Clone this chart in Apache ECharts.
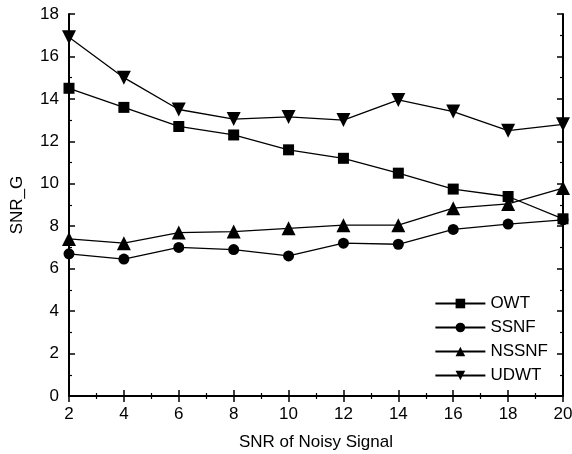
<!DOCTYPE html>
<html>
<head>
<meta charset="utf-8">
<script src="https://cdn.jsdelivr.net/npm/echarts@6/dist/echarts.min.js"></script>
<style>
  html, body { margin: 0; padding: 0; background: #fff; }
  #main { width: 572px; height: 454px; }
</style>
</head>
<body>
<div id="main"></div>
<script>
// SNR of noisy signal (x)
var snrIn = [2, 4, 6, 8, 10, 12, 14, 16, 18, 20];

// SNR_G for each method
var owt   = [14.5, 13.6, 12.7, 12.3, 11.6, 11.2, 10.5, 9.75, 9.4, 8.35];
var ssnf  = [6.7, 6.45, 7.0, 6.9, 6.6, 7.2, 7.15, 7.85, 8.1, 8.3];
var nssnf = [7.4, 7.2, 7.7, 7.75, 7.9, 8.05, 8.05, 8.85, 9.05, 9.8];
var udwt  = [16.9, 15.0, 13.5, 13.05, 13.15, 13.0, 13.95, 13.4, 12.5, 12.8];

function pairs(ys) {
  return snrIn.map(function (x, i) { return [x, ys[i]]; });
}

var chart = echarts.init(document.getElementById('main'));

var font = 'Liberation Sans, Arial, sans-serif';
var axisLine = { show: true, lineStyle: { color: '#000', width: 2 } };
var tick = { show: true, inside: true, length: 6, lineStyle: { color: '#000', width: 1.5 } };
var minor = { show: true, splitNumber: 2, length: 3, lineStyle: { color: '#000', width: 1.2 } };

function line(name, symbol, ys, size, rotate) {
  return {
    name: name,
    type: 'line',
    data: pairs(ys),
    symbol: symbol,
    symbolSize: size,
    symbolRotate: rotate || 0,
    lineStyle: { color: '#000', width: 1.3 },
    itemStyle: { color: '#000' },
    animation: false
  };
}

var option = {
  backgroundColor: '#fff',
  grid: { left: 69, right: 9, top: 14, bottom: 58, outerBoundsMode: 'none', containLabel: false },
  legend: {
    orient: 'vertical',
    right: 19,
    top: 290,
    itemWidth: 50,
    itemHeight: 12,
    itemGap: 7,
    textStyle: { color: '#000', fontSize: 17, fontFamily: font },
    data: ['OWT', 'SSNF', 'NSSNF', 'UDWT']
  },
  xAxis: [{
    type: 'value',
    min: 2, max: 20, interval: 2,
    name: 'SNR of Noisy Signal',
    nameLocation: 'middle',
    nameGap: 38,
    nameTextStyle: { color: '#000', fontSize: 17, fontFamily: font },
    axisLine: axisLine,
    axisTick: tick,
    minorTick: minor,
    axisLabel: { color: '#000', fontSize: 17, fontFamily: font, margin: 10 },
    splitLine: { show: false }
  }, {
    type: 'value',
    position: 'top',
    min: 2, max: 20, interval: 2,
    axisLine: axisLine,
    axisTick: tick,
    minorTick: minor,
    axisLabel: { show: false },
    splitLine: { show: false }
  }],
  yAxis: [{
    type: 'value',
    min: 0, max: 18, interval: 2,
    name: 'SNR_G',
    nameLocation: 'middle',
    nameGap: 43,
    nameTextStyle: { color: '#000', fontSize: 17, fontFamily: font },
    axisLine: axisLine,
    axisTick: tick,
    minorTick: minor,
    axisLabel: { color: '#000', fontSize: 17, fontFamily: font, margin: 10 },
    splitLine: { show: false }
  }, {
    type: 'value',
    position: 'right',
    min: 0, max: 18, interval: 2,
    axisLine: axisLine,
    axisTick: tick,
    minorTick: minor,
    axisLabel: { show: false },
    splitLine: { show: false }
  }],
  series: [
    line('OWT', 'rect', owt, 11),
    line('SSNF', 'circle', ssnf, 11),
    line('NSSNF', 'triangle', nssnf, 14),
    line('UDWT', 'triangle', udwt, 14, 180)
  ]
};

chart.setOption(option);
</script>
</body>
</html>
